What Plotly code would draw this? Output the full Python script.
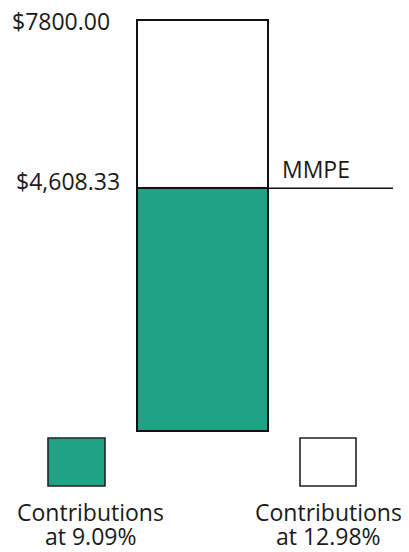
import plotly.graph_objects as go

categories = ["Contributions"]
base_values = [4608.33]             # Contributions at 9.09%
extra_values = [7800.00 - 4608.33]  # up to Contributions at 12.98%
total_value = 7800.00
mmpe_value = 4608.33
legend_labels = [["Contributions", "at 9.09%"], ["Contributions", "at 12.98%"]]
value_labels = ["$7800.00", "$4,608.33"]

GREEN = "#1fa384"
OFF = 8  # page body margin
W, H = 409 - OFF, 552 - OFF
px_per_x = 131.0
cx = 202.5 - OFF
x_range = [-cx / px_per_x, (W - cx) / px_per_x]
y0_px, ytop_px = 431.0 - OFF, 20.0 - OFF
s = (y0_px - ytop_px) / total_value
y_range = [-(H - y0_px) / s, y0_px / s]

fig = go.Figure()
fig.add_trace(go.Bar(x=[0], y=base_values, width=1,
                     marker=dict(color=GREEN, line=dict(color="#111", width=1.6)),
                     name="Contributions at 9.09%"))
fig.add_trace(go.Bar(x=[0], y=extra_values, width=1,
                     marker=dict(color="white", line=dict(color="#111", width=1.6)),
                     name="Contributions at 12.98%"))

font = dict(family="Open Sans, Lato, sans-serif", size=23, color="#1a1a1a")

# MMPE line
fig.add_shape(type="line", xref="x", yref="y", x0=0.5, x1=(393 - OFF - cx) / px_per_x,
              y0=mmpe_value, y1=mmpe_value, line=dict(color="#111", width=1.6))

fig.add_annotation(x=-0.5, xshift=-25, y=total_value, text=value_labels[0], showarrow=False,
                   xanchor="right", yanchor="middle", font=font, yshift=-1)
fig.add_annotation(x=-0.5, xshift=-15, y=mmpe_value, text=value_labels[1], showarrow=False,
                   xanchor="right", yanchor="middle", font=font, yshift=7)
fig.add_annotation(x=0.5, xshift=12, y=mmpe_value, text="MMPE", showarrow=False,
                   xanchor="left", yanchor="middle", font=font, yshift=19)

# legend squares and labels (paper coords)
def px_x(p): return (p - OFF) / W
def px_y(p): return 1 - (p - OFF) / H

squares = [(48, 105, GREEN), (300, 356, "white")]
centers = [90, 328]
for (x0, x1, c), lab, cxl in zip(squares, legend_labels, centers):
    fig.add_shape(type="rect", xref="paper", yref="paper", x0=px_x(x0), x1=px_x(x1),
                  y0=px_y(486), y1=px_y(438), fillcolor=c, line=dict(color="#222", width=1.6))
    fig.add_annotation(xref="paper", yref="paper", x=px_x(cxl), y=px_y(512), text=lab[0],
                       showarrow=False, xanchor="center", yanchor="middle", font=font)
    fig.add_annotation(xref="paper", yref="paper", x=px_x(cxl), y=px_y(536), text=lab[1],
                       showarrow=False, xanchor="center", yanchor="middle", font=font)

fig.update_layout(barmode="stack", width=W, height=H, margin=dict(l=0, r=0, t=0, b=0),
                  plot_bgcolor="white", paper_bgcolor="white", showlegend=False,
                  xaxis=dict(range=x_range, visible=False, fixedrange=True),
                  yaxis=dict(range=y_range, visible=False, fixedrange=True))
fig.write_html("out.html")
